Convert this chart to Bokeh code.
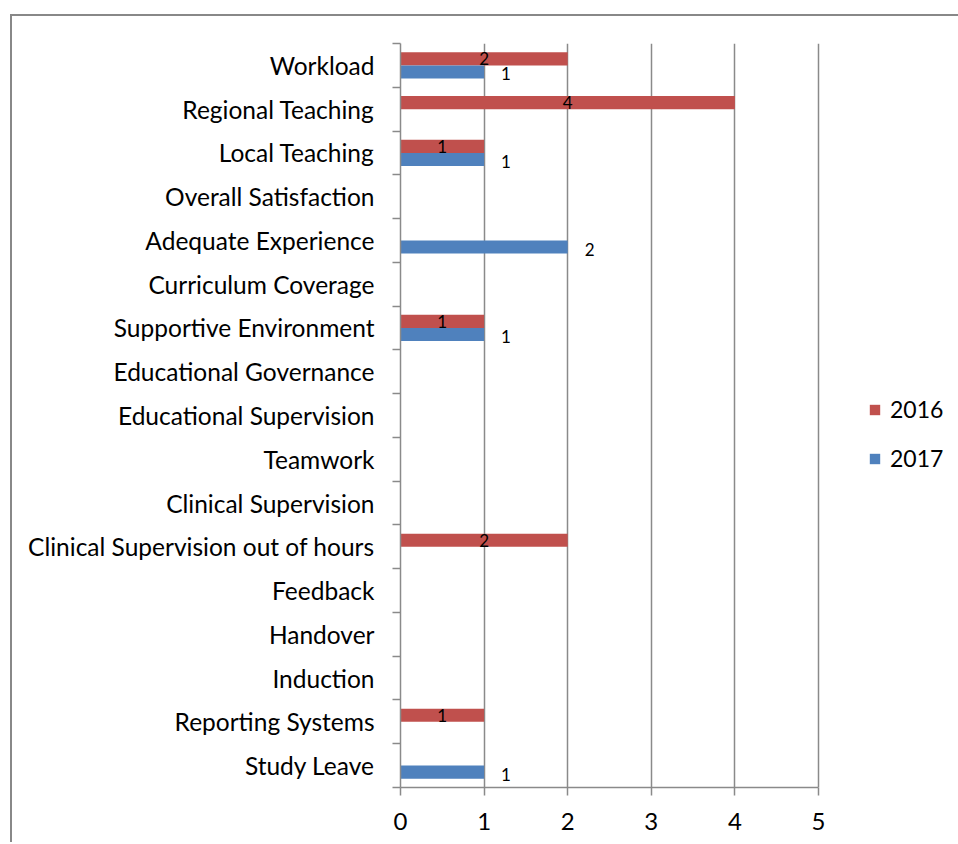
from bokeh.plotting import figure
from bokeh.models import (ColumnDataSource, Range1d, FixedTicker, LinearAxis,
                          Legend, LegendItem)
from bokeh.transform import dodge
from bokeh.core.properties import value
from bokeh.embed import file_html
from bokeh.resources import INLINE

# ---- data (top to bottom as in the chart) ----
categories = ["Workload", "Regional Teaching", "Local Teaching", "Overall Satisfaction",
              "Adequate Experience", "Curriculum Coverage", "Supportive Environment",
              "Educational Governance", "Educational Supervision", "Teamwork",
              "Clinical Supervision", "Clinical Supervision out of hours", "Feedback",
              "Handover", "Induction", "Reporting Systems", "Study Leave"]
values_2016 = [2, 4, 1, 0, 0, 0, 1, 0, 0, 0, 0, 2, 0, 0, 0, 1, 0]
values_2017 = [1, 0, 1, 0, 2, 0, 1, 0, 0, 0, 0, 0, 0, 0, 0, 0, 1]
series_names = ["2016", "2017"]
x_ticks = [0, 1, 2, 3, 4, 5]

RED = "#C0504D"
BLUE = "#4F81BD"
GRID = "#8A8A8A"
FONT = "Lato"

W, H = 958, 842
LEFT, TOP, BOTTOM = 400, 43, 55
AXIS_PX = 418  # pixel length of the 0..5 value axis
x_end = x_ticks[-1] * (W - LEFT) / AXIS_PX  # frame extends right to hold the legend

n = len(categories)
ypos = [n - 1 - i for i in range(n)]  # first category at top

src = ColumnDataSource(dict(y=ypos, cat=categories, v16=values_2016, v17=values_2017))
lab16 = ColumnDataSource(dict(
    y=[y for y, v in zip(ypos, values_2016) if v], x=[v / 2 for v in values_2016 if v],
    t=[str(v) for v in values_2016 if v]))
lab17 = ColumnDataSource(dict(
    y=[y for y, v in zip(ypos, values_2017) if v], x=[v for v in values_2017 if v],
    t=[str(v) for v in values_2017 if v]))

p = figure(width=W, height=H, output_backend="svg", toolbar_location=None,
           x_range=Range1d(0, x_end), y_range=Range1d(-0.5, n - 0.5),
           min_border_left=LEFT, min_border_right=0, min_border_top=TOP,
           min_border_bottom=BOTTOM, x_axis_location=None, y_axis_location=None)
p.outline_line_color = None
p.background_fill_color = None
p.border_fill_color = None
p.styles = {
    "background": ("linear-gradient(#888888, #888888) 10px 14px / 2px 2000px no-repeat, "
                   "linear-gradient(#888888, #888888) 10px 14px / 2000px 2px no-repeat, "
                   "white")
}

r16 = p.hbar(y=dodge("y", 0.15, range=p.y_range), left=0, right="v16", height=0.3,
             source=src, fill_color=RED, line_color=None)
r17 = p.hbar(y=dodge("y", -0.15, range=p.y_range), left=0, right="v17", height=0.3,
             source=src, fill_color=BLUE, line_color=None)

p.text(x="x", y=dodge("y", 0.15, range=p.y_range), text="t", source=lab16,
       text_align="center", text_baseline="middle", text_font=value(FONT),
       text_font_size="17px", text_color="black")
p.text(x="x", y=dodge("y", -0.15, range=p.y_range), text="t", source=lab17,
       x_offset=17, y_offset=2, text_align="left", text_baseline="middle",
       text_font=value(FONT), text_font_size="17px", text_color="black")

# x axis
xa = LinearAxis(ticker=FixedTicker(ticks=x_ticks), bounds=(x_ticks[0], x_ticks[-1]))
xa.axis_line_color = GRID
xa.axis_line_width = 1.5
xa.major_tick_line_color = GRID
xa.major_tick_line_width = 1.5
xa.major_tick_out = 8
xa.major_tick_in = 0
xa.minor_tick_line_color = None
xa.major_label_text_font = FONT
xa.major_label_text_font_size = "24px"
xa.major_label_text_color = "black"
xa.major_label_standoff = 17
p.add_layout(xa, "below")

# y axis: labels at category centres, ticks at boundaries
ya = LinearAxis(ticker=FixedTicker(ticks=ypos, minor_ticks=[i - 0.5 for i in range(n + 1)]))
ya.major_label_overrides = {y: c for y, c in zip(ypos, categories)}
ya.axis_line_color = GRID
ya.axis_line_width = 1.5
ya.major_tick_line_color = None
ya.major_tick_out = 0
ya.major_tick_in = 0
ya.minor_tick_line_color = GRID
ya.minor_tick_line_width = 1.5
ya.minor_tick_out = 8
ya.minor_tick_in = 0
ya.major_label_text_font = FONT
ya.major_label_text_font_size = "24.5px"
ya.major_label_text_color = "black"
ya.major_label_standoff = 18
p.add_layout(ya, "left")

p.xgrid.ticker = FixedTicker(ticks=x_ticks)
p.xgrid.grid_line_color = GRID
p.xgrid.grid_line_width = 1.5
p.ygrid.grid_line_color = None

legend = Legend(items=[LegendItem(label=series_names[0], renderers=[r16]),
                       LegendItem(label=series_names[1], renderers=[r17])],
                location=(468, 315))
legend.padding = 0
legend.margin = 0
legend.spacing = 21
legend.glyph_width = 13
legend.glyph_height = 13
legend.label_standoff = 9
legend.label_text_font = FONT
legend.label_text_font_size = "23px"
legend.label_text_color = "black"
legend.border_line_color = None
legend.background_fill_alpha = 0
p.add_layout(legend)

open("out.html", "w").write(file_html(p, INLINE))
